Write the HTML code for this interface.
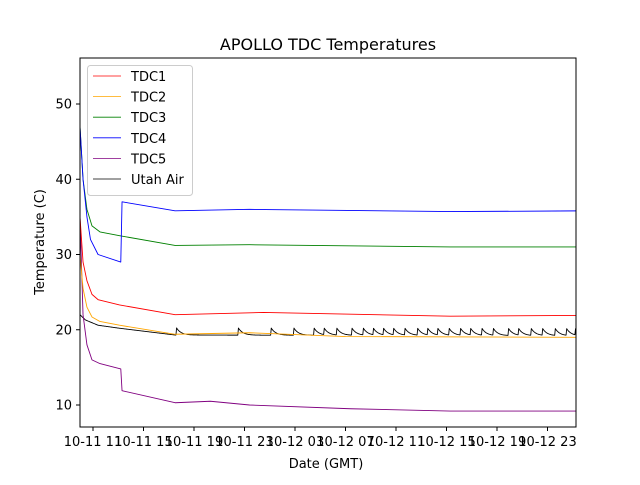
<!DOCTYPE html>
<html><head><meta charset="utf-8"><style>
body{margin:0;background:#fff;}
svg{font-family:"DejaVu Sans","Liberation Sans",sans-serif;}
</style></head><body>
<svg id="chart" width="640" height="480" viewBox="0 0 640 480">
<rect width="640" height="480" fill="#fff"/>
<text x="328" y="50" font-size="16" text-anchor="middle">APOLLO TDC Temperatures</text>
<g id="plot"></g>
<g id="xaxis"></g>
<g id="yaxis"></g>
<rect x="80" y="58" width="496" height="369" fill="none" stroke="#000" stroke-width="1"/>
<text x="326" y="468" font-size="13" text-anchor="middle">Date (GMT)</text>
<text transform="translate(44,242) rotate(-90)" font-size="13" text-anchor="middle">Temperature (C)</text>
<g id="legend"></g>
</svg>
<script>
// hours since 10-11 11:00 GMT
const xTickHours=[0,4,8,12,16,20,24,28,32,36];
const xTickLabels=["10-11 11","10-11 15","10-11 19","10-11 23","10-12 03","10-12 07","10-12 11","10-12 15","10-12 19","10-12 23"];
const yTicks=[10,20,30,40,50];
const seriesNames=["TDC1","TDC2","TDC3","TDC4","TDC5","Utah Air"];
const seriesColors=["red","orange","green","blue","purple","black"];
const tdc1T=[-1.03,-0.79,-0.48,-0.08,0.4,2.1,6.5,13.5,28.3,38.3];
const tdc1V=[35,29,26.5,24.7,24,23.3,22,22.3,21.8,21.9];
const tdc2T=[-1.03,-0.79,-0.48,-0.08,0.55,2.1,6.5,12.4,20,38.3];
const tdc2V=[30,25.5,23,21.7,21.1,20.6,19.4,19.6,19.1,19];
const tdc3T=[-1.03,-0.79,-0.48,-0.08,0.55,2.1,6.5,12.4,28.3,38.3];
const tdc3V=[47,40,36,33.8,33,32.5,31.2,31.3,31,31];
const tdc4T=[-1.03,-0.79,-0.48,-0.2,0.4,2.2,2.3,6.5,12.4,28.3,38.3];
const tdc4V=[47,40,35,32,30,29,37,35.8,36,35.7,35.8];
const tdc5T=[-1.03,-0.79,-0.48,-0.08,0.55,2.2,2.3,6.5,9.3,12.4,20.4,28.3,38.3];
const tdc5V=[35,22,18,16,15.5,14.8,11.9,10.3,10.5,10,9.5,9.2,9.2];
const airT=[-1.03,-0.6,0.4,2.1,6.5,38.3];
const airV=[22,21.3,20.6,20.2,19.3,19.2];
const airSpikes=[6.6,11.5,14.1,15.9,17.5,18.3,19.3,20.5,21.4,22.2,23,23.8,24.7,25.7,26.5,27.3,28.2,29.1,29.9,30.8,31.7,32.9,33.7,34.7,35.6,36.6,37.5,38.2];
const airSpikeAmp=[1.0];

const X0=93,XS=50.5/4,YB=405,YS=7.525;
const xs=t=>X0+t*XS, ys=v=>YB-(v-10)*YS;
const NS="http://www.w3.org/2000/svg";
const plot=document.getElementById('plot');
function interp(T,V,t){if(t<=T[0])return V[0];for(let i=1;i<T.length;i++){if(t<=T[i]){const f=(t-T[i-1])/(T[i]-T[i-1]||1);return V[i-1]+f*(V[i]-V[i-1]);}}return V[V.length-1];}
function pathFrom(T,V){let d='';for(let i=0;i<T.length;i++){d+=(i?'L':'M')+xs(T[i]).toFixed(2)+','+ys(V[i]).toFixed(2);}return d;}
function airPath(){const pts=[];const step=0.05;for(let t=-1.03;t<=38.3;t+=step){let v=interp(airT,airV,t);let last=null;for(const s of airSpikes){if(s<=t)last=s;}if(last!==null){v+=airSpikeAmp[0]*Math.exp(-(t-last)/0.35);}pts.push([t,v]);}
let d='';pts.forEach((p,i)=>{d+=(i?'L':'M')+xs(p[0]).toFixed(2)+','+ys(p[1]).toFixed(2);});return d;}
const allT=[tdc1T,tdc2T,tdc3T,tdc4T,tdc5T,airT],allV=[tdc1V,tdc2V,tdc3V,tdc4V,tdc5V,airV];
const order=[5,4,1,0,2,3];
const clip=document.createElementNS(NS,'clipPath');clip.setAttribute('id','c');const cr=document.createElementNS(NS,'rect');cr.setAttribute('x',80);cr.setAttribute('y',58);cr.setAttribute('width',496);cr.setAttribute('height',369);clip.appendChild(cr);document.getElementById('chart').appendChild(clip);
plot.setAttribute('clip-path','url(#c)');
for(const i of order){const p=document.createElementNS(NS,'path');
p.setAttribute('d',i===5?airPath():pathFrom(allT[i],allV[i]));
p.setAttribute('fill','none');p.setAttribute('stroke',seriesColors[i]);p.setAttribute('stroke-width','0.9');p.setAttribute('stroke-linejoin','round');


plot.appendChild(p);}
const xa=document.getElementById('xaxis');
xTickHours.forEach((h,i)=>{const x=xs(h);const l=document.createElementNS(NS,'line');l.setAttribute('x1',x);l.setAttribute('x2',x);l.setAttribute('y1',427);l.setAttribute('y2',431);l.setAttribute('stroke','#000');


xa.appendChild(l);const t=document.createElementNS(NS,'text');t.setAttribute('x',x);t.setAttribute('y',446);t.setAttribute('font-size','13');t.setAttribute('text-anchor','middle');t.textContent=xTickLabels[i];


xa.appendChild(t);});
const ya=document.getElementById('yaxis');
yTicks.forEach(v=>{const y=ys(v);const l=document.createElementNS(NS,'line');l.setAttribute('x1',76);l.setAttribute('x2',80);l.setAttribute('y1',y);l.setAttribute('y2',y);l.setAttribute('stroke','#000');


ya.appendChild(l);const t=document.createElementNS(NS,'text');t.setAttribute('x',72);t.setAttribute('y',y+4.5);t.setAttribute('font-size','13');t.setAttribute('text-anchor','end');t.textContent=v;


ya.appendChild(t);});
const lg=document.getElementById('legend');
const box=document.createElementNS(NS,'rect');box.setAttribute('x',87.5);box.setAttribute('y',65.5);box.setAttribute('width',105);box.setAttribute('height',130);box.setAttribute('rx',3);box.setAttribute('fill','#fff');box.setAttribute('fill-opacity','0.8');box.setAttribute('stroke','#ccc');


lg.appendChild(box);
seriesNames.forEach((n,i)=>{const y=76+i*20.6;const l=document.createElementNS(NS,'line');l.setAttribute('x1',93);l.setAttribute('x2',121);l.setAttribute('y1',y);l.setAttribute('y2',y);l.setAttribute('stroke',seriesColors[i]);l.setAttribute('stroke-width','0.8');


lg.appendChild(l);const t=document.createElementNS(NS,'text');t.setAttribute('x',131);t.setAttribute('y',y+5);t.setAttribute('font-size','13');t.textContent=n;


lg.appendChild(t);});
</script>
</body></html>
